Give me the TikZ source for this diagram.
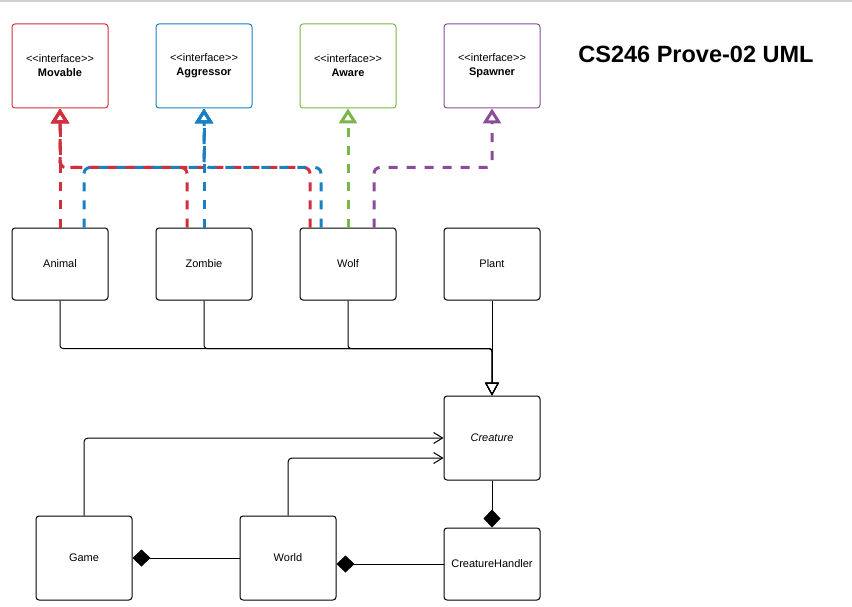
\documentclass[tikz,border=0pt]{standalone}
\usepackage{fontspec}
\setmainfont{Liberation Sans}
\usetikzlibrary{arrows.meta,positioning}
\definecolor{movred}{HTML}{D12F3C}
\definecolor{aggblue}{HTML}{1A80C4}
\definecolor{awgreen}{HTML}{7AB648}
\definecolor{spwpurple}{HTML}{8A4C9A}
\newcommand{\stereo}{{<}{<}interface{>}{>}}

\begin{document}
\begin{tikzpicture}[x=1pt,y=-1pt,
  box/.style={draw,line width=1pt,rounded corners=3pt,minimum width=96pt,minimum height=72pt,
    inner sep=0pt,align=center,font=\fontsize{11}{14}\selectfont},
  tall/.style={box,minimum height=84pt},
  iface/.style={tall,draw=#1},
  real/.style={line width=3pt,dash pattern=on 9pt off 9pt,rounded corners=6pt,
    -{Triangle[open,length=15pt,width=18pt]}},
  inh/.style={line width=1pt,rounded corners=3pt,-{Triangle[open,length=13pt,width=14pt]}},
  assoc/.style={line width=1pt,rounded corners=4pt,-{Straight Barb[length=9pt,width=11pt]}},
  comp/.style={line width=1pt,-{Diamond[length=18pt,width=17pt]}}]
\useasboundingbox (0,0) rectangle (852,607);
\draw[black!18,line width=1.5pt] (0,1) -- (852,1);

% interfaces
\node[iface=movred]    (Movable)   at (60,66)  {\stereo\\\textbf{Movable}};
\node[iface=aggblue]   (Aggressor) at (204,66) {\stereo\\\textbf{Aggressor}};
\node[iface=awgreen]   (Aware)     at (348,66) {\stereo\\\textbf{Aware}};
\node[iface=spwpurple] (Spawner)   at (492,66) {\stereo\\\textbf{Spawner}};
\node[font=\fontsize{23.5}{28}\selectfont\bfseries] (title) at (696,54) {CS246 Prove-02 UML};

% classes
\node[box] (Animal) at (60,264)  {Animal};
\node[box] (Zombie) at (204,264) {Zombie};
\node[box] (Wolf)   at (348,264) {Wolf};
\node[box] (Plant)  at (492,264) {Plant};
\node[tall] (Creature) at (492,438) {\itshape Creature};
\node[box]  (Handler)  at (492,564) {CreatureHandler};
\node[tall] (Game)     at (84,558)  {Game};
\node[tall] (World)    at (288,558) {World};

% realizations
\draw[real,movred] (Animal.north) -- (Movable.south);
\draw[real,movred] ([xshift=-17pt]Zombie.north) -- ++(0,-60) -| (Movable.south);
\draw[real,movred] ([xshift=-38pt]Wolf.north) -- ++(0,-60) -| (Movable.south);
\draw[real,aggblue] ([xshift=24pt]Animal.north) -- ++(0,-60) -| (Aggressor.south);
\draw[real,aggblue] (Zombie.north) -- (Aggressor.south);
\draw[real,aggblue] ([xshift=-27pt]Wolf.north) -- ++(0,-60) -| (Aggressor.south);
\draw[real,awgreen] (Wolf.north) -- (Aware.south);
\draw[real,spwpurple] ([xshift=26pt]Wolf.north) -- ++(0,-60) -| (Spawner.south);

% inheritance
\draw[inh] (Animal.south) -- ++(0,48) -| (Creature.north);
\draw[inh] (Zombie.south) -- ++(0,48) -| (Creature.north);
\draw[inh] (Wolf.south) -- ++(0,48) -| (Creature.north);
\draw[inh] (Plant.south) -- (Creature.north);

% associations and compositions
\draw[assoc] (Game.north) |- (Creature.west);
\draw[assoc] (World.north) |- ([yshift=-20pt]Creature.west);
\draw[comp] (World.west) -- (Game.east);
\draw[comp] (Handler.west) -- (Handler.west -| World.east);
\draw[comp] (Creature.south) -- (Handler.north);
\end{tikzpicture}
\end{document}
